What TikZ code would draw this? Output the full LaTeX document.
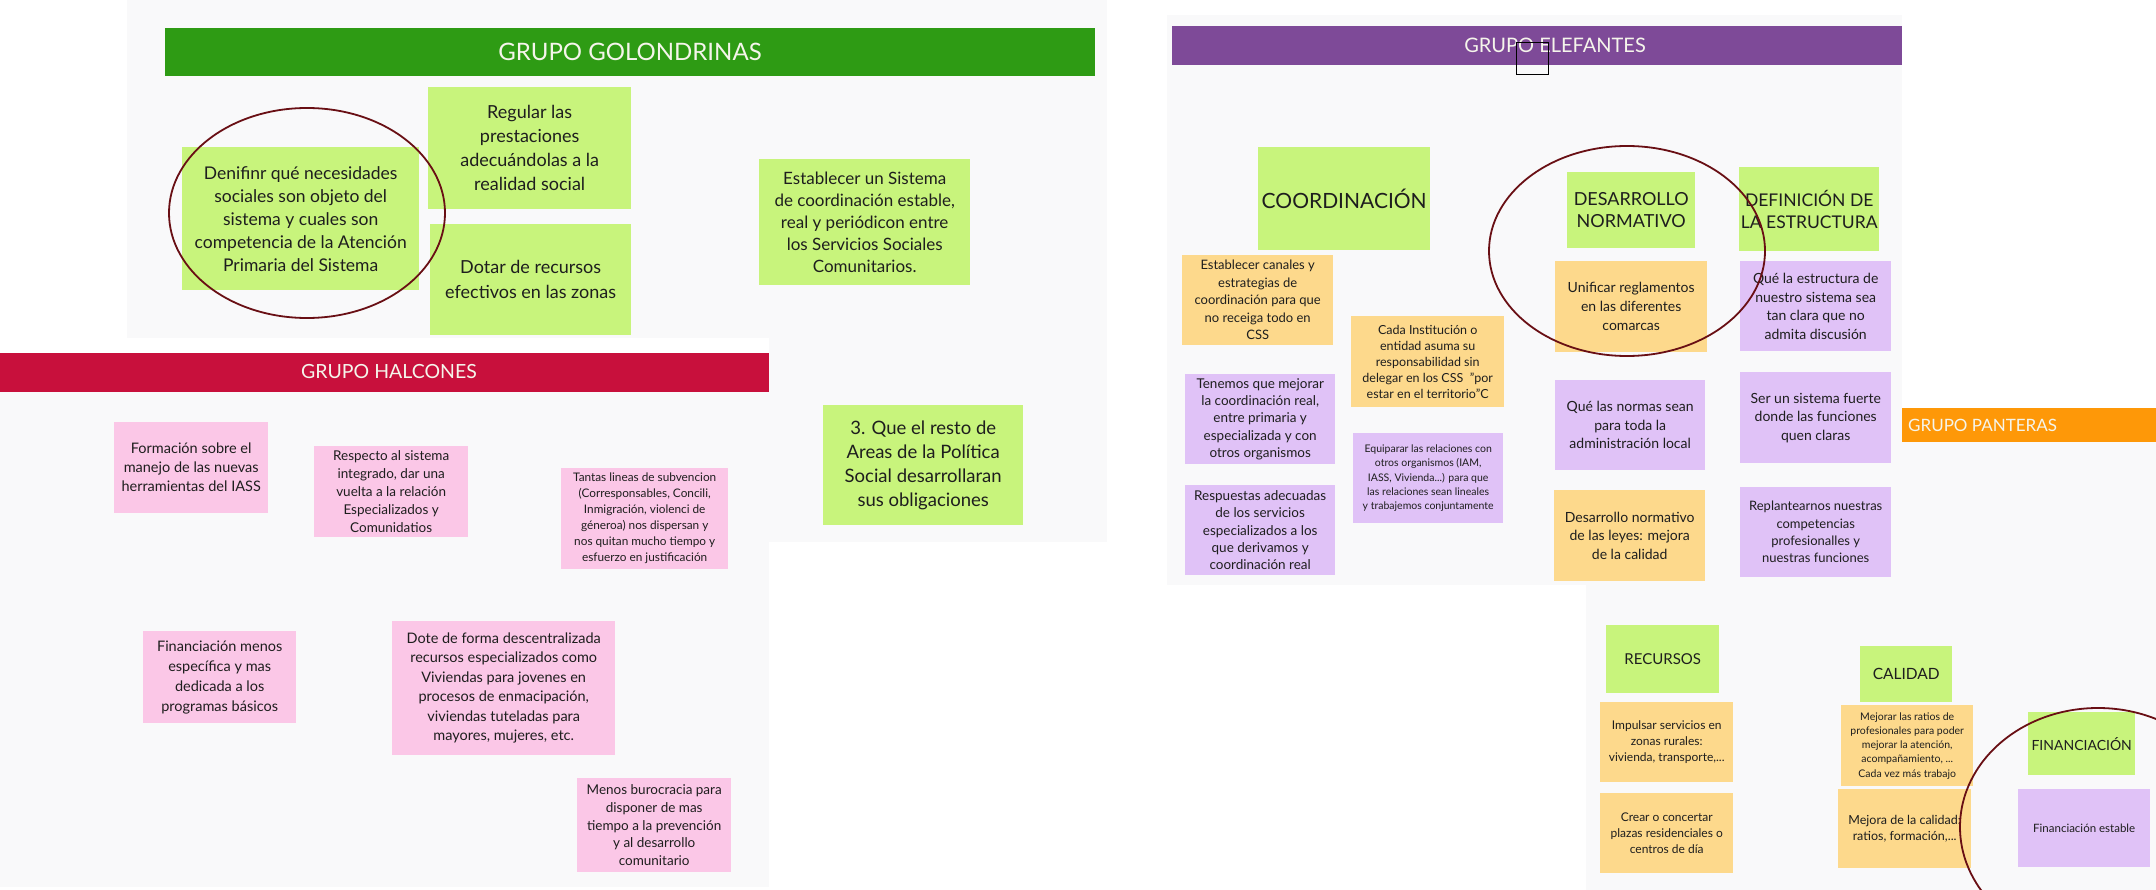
\documentclass[tikz,border=0pt]{standalone}
\usepackage{fontspec}
\setmainfont{Lato}
\definecolor{gnotefill}{RGB}{200,244,124}
\definecolor{pnotefill}{RGB}{251,199,231}
\definecolor{onotefill}{RGB}{253,217,140}
\definecolor{vnotefill}{RGB}{224,194,247}
\definecolor{barGreen}{RGB}{46,155,20}
\definecolor{barRed}{RGB}{200,16,60}
\definecolor{barPurple}{RGB}{126,74,152}
\definecolor{barOrange}{RGB}{254,152,8}
\definecolor{panelbg}{RGB}{249,249,250}
\definecolor{ringred}{RGB}{105,15,20}
\definecolor{ink}{RGB}{30,30,30}
\definecolor{bartext}{RGB}{245,245,235}
\tikzset{
  sticky/.style={anchor=north west, inner sep=0pt, align=center, text=ink},
  gnote/.style={sticky, fill=gnotefill},
  pnote/.style={sticky, fill=pnotefill},
  onote/.style={sticky, fill=onotefill},
  vnote/.style={sticky, fill=vnotefill},
  wh/.style 2 args={minimum width=#1pt, minimum height=#2pt},
  fnt/.style 2 args={font=\fontsize{#1}{#2}\selectfont},
  grouptitle/.style={text=bartext, inner sep=0pt},
  ring/.style={draw=ringred, line width=1.8pt}
}
\begin{document}
\begin{tikzpicture}[x=1pt,y=-1pt]
  \useasboundingbox (0,0) rectangle (2156,890);
  \clip (0,0) rectangle (2156,890);
  \fill[white] (0,0) rectangle (2156,890);

  \fill[panelbg] (127,0) rectangle (1107,542);
  \fill[barGreen] (165,28) rectangle (1095,76);
  \node[grouptitle, fnt={24}{28}] (tGol) at (630,52) {GRUPO GOLONDRINAS};
  \node[gnote, wh={237}{143}, fnt={17.5}{23}] (golDefinir) at (182,147) {Denifinr qué necesidades\\sociales son objeto del\\sistema y cuales son\\competencia de la Atención\\Primaria del Sistema};
  \node[gnote, wh={203}{122}, fnt={18}{24}] (golRegular) at (428,87) {Regular las\\prestaciones\\adecuándolas a la\\realidad social};
  \node[gnote, wh={201}{111}, fnt={18}{25}] (golDotar) at (430,224) {Dotar de recursos\\efectivos en las zonas};
  \node[gnote, wh={211}{126}, fnt={17}{22}] (golEstablecer) at (759,159) {Establecer un Sistema\\de coordinación estable,\\real y periódicon entre\\los Servicios Sociales\\Comunitarios.};
  \node[gnote, wh={200}{120}, fnt={18.5}{24}] (golResto) at (823,405) {3. Que el resto de\\Areas de la Política\\Social desarrollaran\\sus obligaciones};
  \draw[ring] (307,213) ellipse [x radius=138pt, y radius=105pt];

  \fill[white] (0,338) rectangle (769,890);
  \fill[panelbg] (0,392) rectangle (769,887);
  \fill[barRed] (0,353) rectangle (769,392);
  \node[grouptitle, fnt={19.5}{24}] (tHal) at (389,372) {GRUPO HALCONES};
  \node[pnote, wh={154}{91}, fnt={14.5}{19}] (halFormacion) at (114,422) {Formación sobre el\\manejo de las nuevas\\herramientas del IASS};
  \node[pnote, wh={154}{91}, fnt={13.5}{18}] (halRespecto) at (314,446) {Respecto al sistema\\integrado, dar una\\vuelta a la relación\\Especializados y\\Comunidatios};
  \node[pnote, wh={167}{101}, fnt={11.8}{16}] (halTantas) at (561,468) {Tantas lineas de subvencion\\(Corresponsables, Concili,\\Inmigración, violenci de\\géneroa) nos dispersan y\\nos quitan mucho tiempo y\\esfuerzo en justificación};
  \node[pnote, wh={153}{92}, fnt={14.5}{20}] (halFinanciacion) at (143,631) {Financiación menos\\específica y mas\\dedicada a los\\programas básicos};
  \node[pnote, wh={223}{134}, fnt={14.5}{19.5}] (halDote) at (392,621) {Dote de forma descentralizada\\recursos especializados como\\Viviendas para jovenes en\\procesos de enmacipación,\\viviendas tuteladas para\\mayores, mujeres, etc.};
  \node[pnote, wh={154}{94}, fnt={13.5}{17.7}] (halMenos) at (577,778) {Menos burocracia para\\disponer de mas\\tiempo a la prevención\\y al desarrollo\\comunitario};

  \fill[panelbg] (1167,15) rectangle (1902,585);
  \fill[barPurple] (1172,26) rectangle (1902,65);
  \node[grouptitle, fnt={20}{24}] (tElf) at (1555,45) {GRUPO ELEFANTES};
  \draw[black, line width=1pt] (1516,43) rectangle (1548,75);
  \node[gnote, wh={172}{103}, fnt={21}{25}] (elfCoord) at (1258,147) {COORDINACIÓN};
  \node[gnote, wh={128}{76}, fnt={18}{22}] (elfDesarrollo) at (1567,172) {DESARROLLO\\NORMATIVO};
  \node[gnote, wh={140}{84}, fnt={17.5}{22}] (elfDefinicion) at (1739,167) {DEFINICIÓN DE\\LA ESTRUCTURA};
  \node[onote, wh={151}{90}, fnt={13}{17.5}] (elfCanales) at (1182,255) {Establecer canales y\\estrategias de\\coordinación para que\\no receiga todo en\\CSS};
  \node[onote, wh={153}{91}, fnt={12.5}{16}] (elfCada) at (1351,316) {Cada Institución o\\entidad asuma su\\responsabilidad sin\\delegar en los CSS\ \ "por\\estar en el territorio"C};
  \node[onote, wh={152}{91}, fnt={14}{19}] (elfUnificar) at (1555,261) {Unificar reglamentos\\en las diferentes\\comarcas};
  \node[vnote, wh={151}{90}, fnt={14}{18.5}] (elfEstructura) at (1740,261) {Qué la estructura de\\nuestro sistema sea\\tan clara que no\\admita discusión};
  \node[vnote, wh={150}{90}, fnt={13.5}{17.3}] (elfTenemos) at (1185,374) {Tenemos que mejorar\\la coordinación real,\\entre primaria y\\especializada y con\\otros organismos};
  \node[vnote, wh={150}{90}, fnt={10.5}{14.3}] (elfEquiparar) at (1353,433) {Equiparar las relaciones con\\otros organismos (IAM,\\IASS, Vivienda...) para que\\las relaciones sean lineales\\y trabajemos conjuntamente};
  \node[vnote, wh={150}{90}, fnt={14}{18.7}] (elfNormas) at (1555,380) {Qué las normas sean\\para toda la\\administración local};
  \node[vnote, wh={151}{91}, fnt={14}{18.5}] (elfFuerte) at (1740,372) {Ser un sistema fuerte\\donde las funciones\\quen claras};
  \node[vnote, wh={150}{90}, fnt={13.5}{17.3}] (elfRespuestas) at (1185,485) {Respuestas adecuadas\\de los servicios\\especializados a los\\que derivamos y\\coordinación real};
  \node[onote, wh={151}{91}, fnt={14}{18.5}] (elfLeyes) at (1554,490) {Desarrollo normativo\\de las leyes: mejora\\de la calidad};
  \node[vnote, wh={151}{90}, fnt={13}{17.3}] (elfReplantear) at (1740,487) {Replantearnos nuestras\\competencias\\profesionalles y\\nuestras funciones};
  \draw[ring] (1627,251) ellipse [x radius=138pt, y radius=105pt];

  \fill[panelbg] (1902,442) rectangle (2156,890);
  \fill[barOrange] (1902,408) rectangle (2156,442);
  \node[grouptitle, fnt={17}{20}, anchor=west] (tPan) at (1908,425) {GRUPO PANTERAS};
  \fill[panelbg] (1586,585) rectangle (2156,890);
  \node[gnote, wh={113}{68}, fnt={15}{18}] (panRecursos) at (1606,625) {RECURSOS};
  \node[onote, wh={133}{80}, fnt={12}{16}] (panImpulsar) at (1600,702) {Impulsar servicios en\\zonas rurales:\\vivienda, transporte,...};
  \node[onote, wh={133}{80}, fnt={12}{16}] (panCrear) at (1600,793) {Crear o concertar\\plazas residenciales o\\centros de día};
  \node[gnote, wh={92}{56}, fnt={15.5}{18}] (panCalidad) at (1860,646) {CALIDAD};
  \node[onote, wh={132}{81}, fnt={10.5}{14.3}] (panRatios) at (1841,705) {Mejorar las ratios de\\profesionales para poder\\mejorar la atención,\\acompañamiento, ...\\Cada vez más trabajo};
  \node[onote, wh={133}{79}, fnt={12.5}{16.7}] (panMejora) at (1838,789) {Mejora de la calidad:\\ratios, formación,...};
  \node[gnote, wh={107}{63}, fnt={14}{17}] (panFinanciacion) at (2028,712) {FINANCIACIÓN};
  \node[vnote, wh={132}{78}, fnt={11.5}{14}] (panEstable) at (2018,789) {Financiación estable};
  \draw[ring] (2098,827) ellipse [x radius=138pt, y radius=119pt];
\end{tikzpicture}
\end{document}
